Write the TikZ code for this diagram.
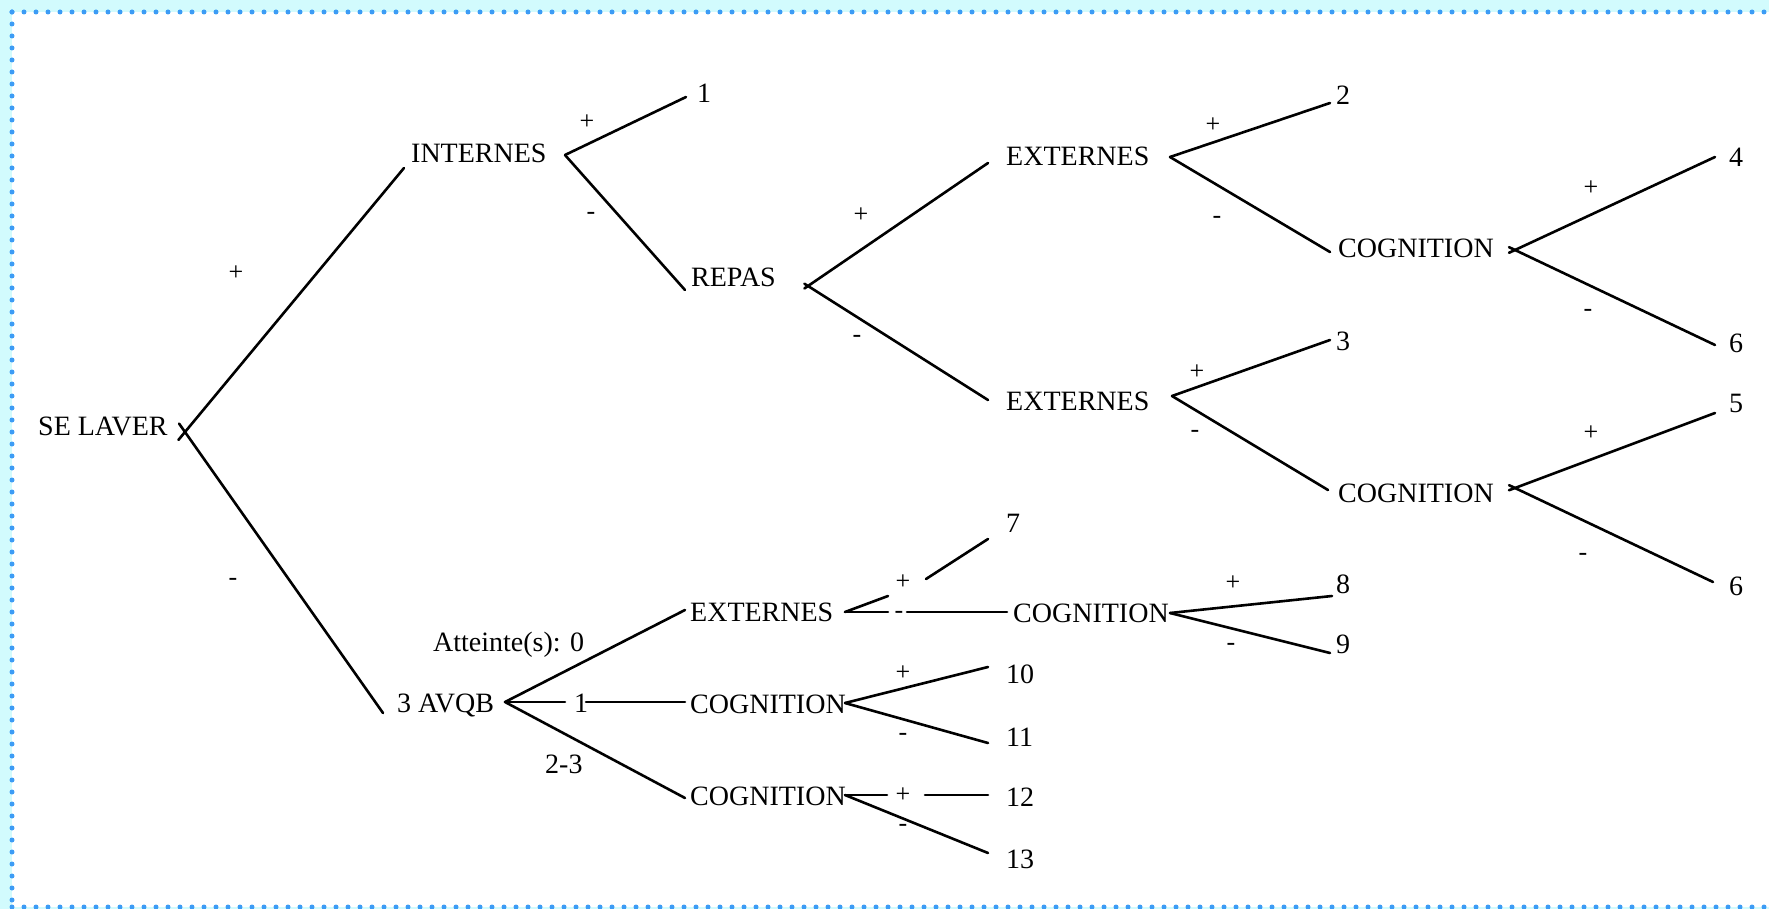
\documentclass[tikz,border=0pt]{standalone}
\usepackage{fontspec}
\setmainfont{Liberation Serif}
\usetikzlibrary{calc}
\definecolor{framebg}{HTML}{D2FBFD}
\definecolor{framedot}{HTML}{3C9CF5}
\begin{document}
\begin{tikzpicture}[x=1pt,y=-1pt,
  lbl/.style={anchor=base west, inner sep=0pt, font=\fontsize{28}{30}\selectfont},
  sgn/.style={anchor=center, inner sep=0pt, font=\fontsize{26}{28}\selectfont},
  br/.style={line width=2.6pt, line cap=round, line join=round},
  dotline/.style={framedot, line width=5pt, line cap=round, dash pattern=on 0pt off 12pt},
]
\useasboundingbox (0,0) rectangle (1769,909);
\fill[framebg] (0,0) rectangle (1769,909);
\fill[white] (12,12) rectangle (1769,907);
\draw[dotline] (12,12) -- (1769,12);
\draw[dotline] (12,12) -- (12,907);
\draw[dotline] (12,907) -- (1769,907);

% text nodes
\node[lbl] (selaver) at (38,435) {SE LAVER};
\node[lbl] (internes) at (411,163) {INTERNES};
\node[lbl] (repas) at (691,287) {REPAS};
\node[lbl] (ext1) at (1006,166) {EXTERNES};
\node[lbl] (ext2) at (1006,410) {EXTERNES};
\node[lbl] (cog1) at (1338,258) {COGNITION};
\node[lbl] (cog2) at (1338,502) {COGNITION};
\node[lbl] (avqb) at (397,712) {3 AVQB};
\node[lbl] (att) at (433,651) {Atteinte(s): 0};
\node[lbl] (ext3) at (690,621) {EXTERNES};
\node[lbl] (cog3) at (1013,622) {COGNITION};
\node[lbl] (cog4) at (690,713) {COGNITION};
\node[lbl] (cog5) at (690,805) {COGNITION};
\node[lbl] (deuxtrois) at (545,773) {2-3};

% leaves
\node[lbl] (n1) at (697,103) {1};
\node[lbl] (n2) at (1336,105) {2};
\node[lbl] (n3) at (1336,350) {3};
\node[lbl] (n4) at (1729,167) {4};
\node[lbl] (n6a) at (1729,352) {6};
\node[lbl] (n5) at (1729,412) {5};
\node[lbl] (n6b) at (1729,595) {6};
\node[lbl] (n7) at (1006,532) {7};
\node[lbl] (n8) at (1336,593) {8};
\node[lbl] (n9) at (1336,653) {9};
\node[lbl] (n10) at (1006,683) {10};
\node[lbl] (n11) at (1006,746) {11};
\node[lbl] (n12) at (1006,806) {12};
\node[lbl] (n13) at (1006,868) {13};

% branch signs
\node[sgn] (s1) at (236,273) {+};
\node[sgn] (s2) at (233,582) {-};
\node[sgn] (s3) at (587,122) {+};
\node[sgn] (s4) at (591,216) {-};
\node[sgn] (s5) at (861,215) {+};
\node[sgn] (s6) at (857,339) {-};
\node[sgn] (s7) at (1213,125) {+};
\node[sgn] (s8) at (1217,220) {-};
\node[sgn] (s9) at (1591,188) {+};
\node[sgn] (s10) at (1588,313) {-};
\node[sgn] (s11) at (1197,372) {+};
\node[sgn] (s12) at (1195,434) {-};
\node[sgn] (s13) at (1591,433) {+};
\node[sgn] (s14) at (1583,557) {-};
\node[sgn] (s15) at (903,582) {+};
\node[sgn] (s16) at (899,615) {-};
\node[sgn] (s17) at (1233,583) {+};
\node[sgn] (s18) at (1231,647) {-};
\node[sgn] (s19) at (903,673) {+};
\node[sgn] (s20) at (903,737) {-};
\node[sgn] (s21) at (903,795) {+};
\node[sgn] (s22) at (903,828) {-};
\node[lbl] (one) at (574,712) {1};

% connector points
\coordinate (jSE) at (185,432);
\coordinate (eINT) at (404,168);
\coordinate (eAV) at (383,713);
\coordinate (jINT) at (565,155);
\coordinate (e1) at (686,97);
\coordinate (eREP) at (685,290);
\coordinate (jREP) at (808,286);
\coordinate (eEXT1) at (988,163);
\coordinate (eEXT2) at (988,400);
\coordinate (jEXT1) at (1170,157);
\coordinate (e2) at (1330,103);
\coordinate (eCOG1) at (1330,252);
\coordinate (jCOG1) at (1515,250);
\coordinate (e4) at (1715,157);
\coordinate (e6a) at (1715,345);
\coordinate (jEXT2) at (1172,396);
\coordinate (e3) at (1330,340);
\coordinate (eCOG2) at (1328,490);
\coordinate (jCOG2) at (1515,488);
\coordinate (e5) at (1715,413);
\coordinate (e6b) at (1713,582);
\coordinate (jAV) at (505,702);
\coordinate (eEXT3) at (685,610);
\coordinate (m1a) at (565,702);
\coordinate (m1b) at (586,702);
\coordinate (eCOG4) at (685,702);
\coordinate (eCOG5) at (685,798);
\coordinate (jEXT3) at (845,612);
\coordinate (p7a) at (888,596);
\coordinate (p7b) at (926,579);
\coordinate (e7) at (988,539);
\coordinate (mCa) at (888,612);
\coordinate (mCb) at (907,612);
\coordinate (eCOG3) at (1007,612);
\coordinate (jCOG3) at (1170,613);
\coordinate (e8) at (1332,596);
\coordinate (e9) at (1330,653);
\coordinate (jCOG4) at (845,703);
\coordinate (e10) at (988,667);
\coordinate (e11) at (988,743);
\coordinate (jCOG5) at (845,795);
\coordinate (p12a) at (887,795);
\coordinate (p12b) at (925,795);
\coordinate (e12) at (988,795);
\coordinate (e13) at (988,853);

% connectors
\draw[br] ($(jSE)!-0.03!(eINT)$) -- (eINT);
\draw[br] ($(jSE)!-0.03!(eAV)$) -- (eAV);
\draw[br] (jINT) -- (e1);
\draw[br] (jINT) -- (eREP);
\draw[br] ($(jREP)!-0.02!(eEXT1)$) -- (eEXT1);
\draw[br] ($(jREP)!-0.02!(eEXT2)$) -- (eEXT2);
\draw[br] (jEXT1) -- (e2);
\draw[br] (jEXT1) -- (eCOG1);
\draw[br] ($(jCOG1)!-0.03!(e4)$) -- (e4);
\draw[br] ($(jCOG1)!-0.03!(e6a)$) -- (e6a);
\draw[br] (jEXT2) -- (e3);
\draw[br] (jEXT2) -- (eCOG2);
\draw[br] ($(jCOG2)!-0.03!(e5)$) -- (e5);
\draw[br] ($(jCOG2)!-0.03!(e6b)$) -- (e6b);
\draw[br] (jAV) -- (eEXT3);
\draw[br] (jAV) -- (m1a);
\draw[br] (m1b) -- (eCOG4);
\draw[br] (jAV) -- (eCOG5);
\draw[br] (jEXT3) -- (p7a);
\draw[br] (p7b) -- (e7);
\draw[br] (jEXT3) -- (mCa);
\draw[br] (mCb) -- (eCOG3);
\draw[br] (jCOG3) -- (e8);
\draw[br] (jCOG3) -- (e9);
\draw[br] (jCOG4) -- (e10);
\draw[br] (jCOG4) -- (e11);
\draw[br] (jCOG5) -- (p12a);
\draw[br] (p12b) -- (e12);
\draw[br] (jCOG5) -- (e13);
\end{tikzpicture}
\end{document}
